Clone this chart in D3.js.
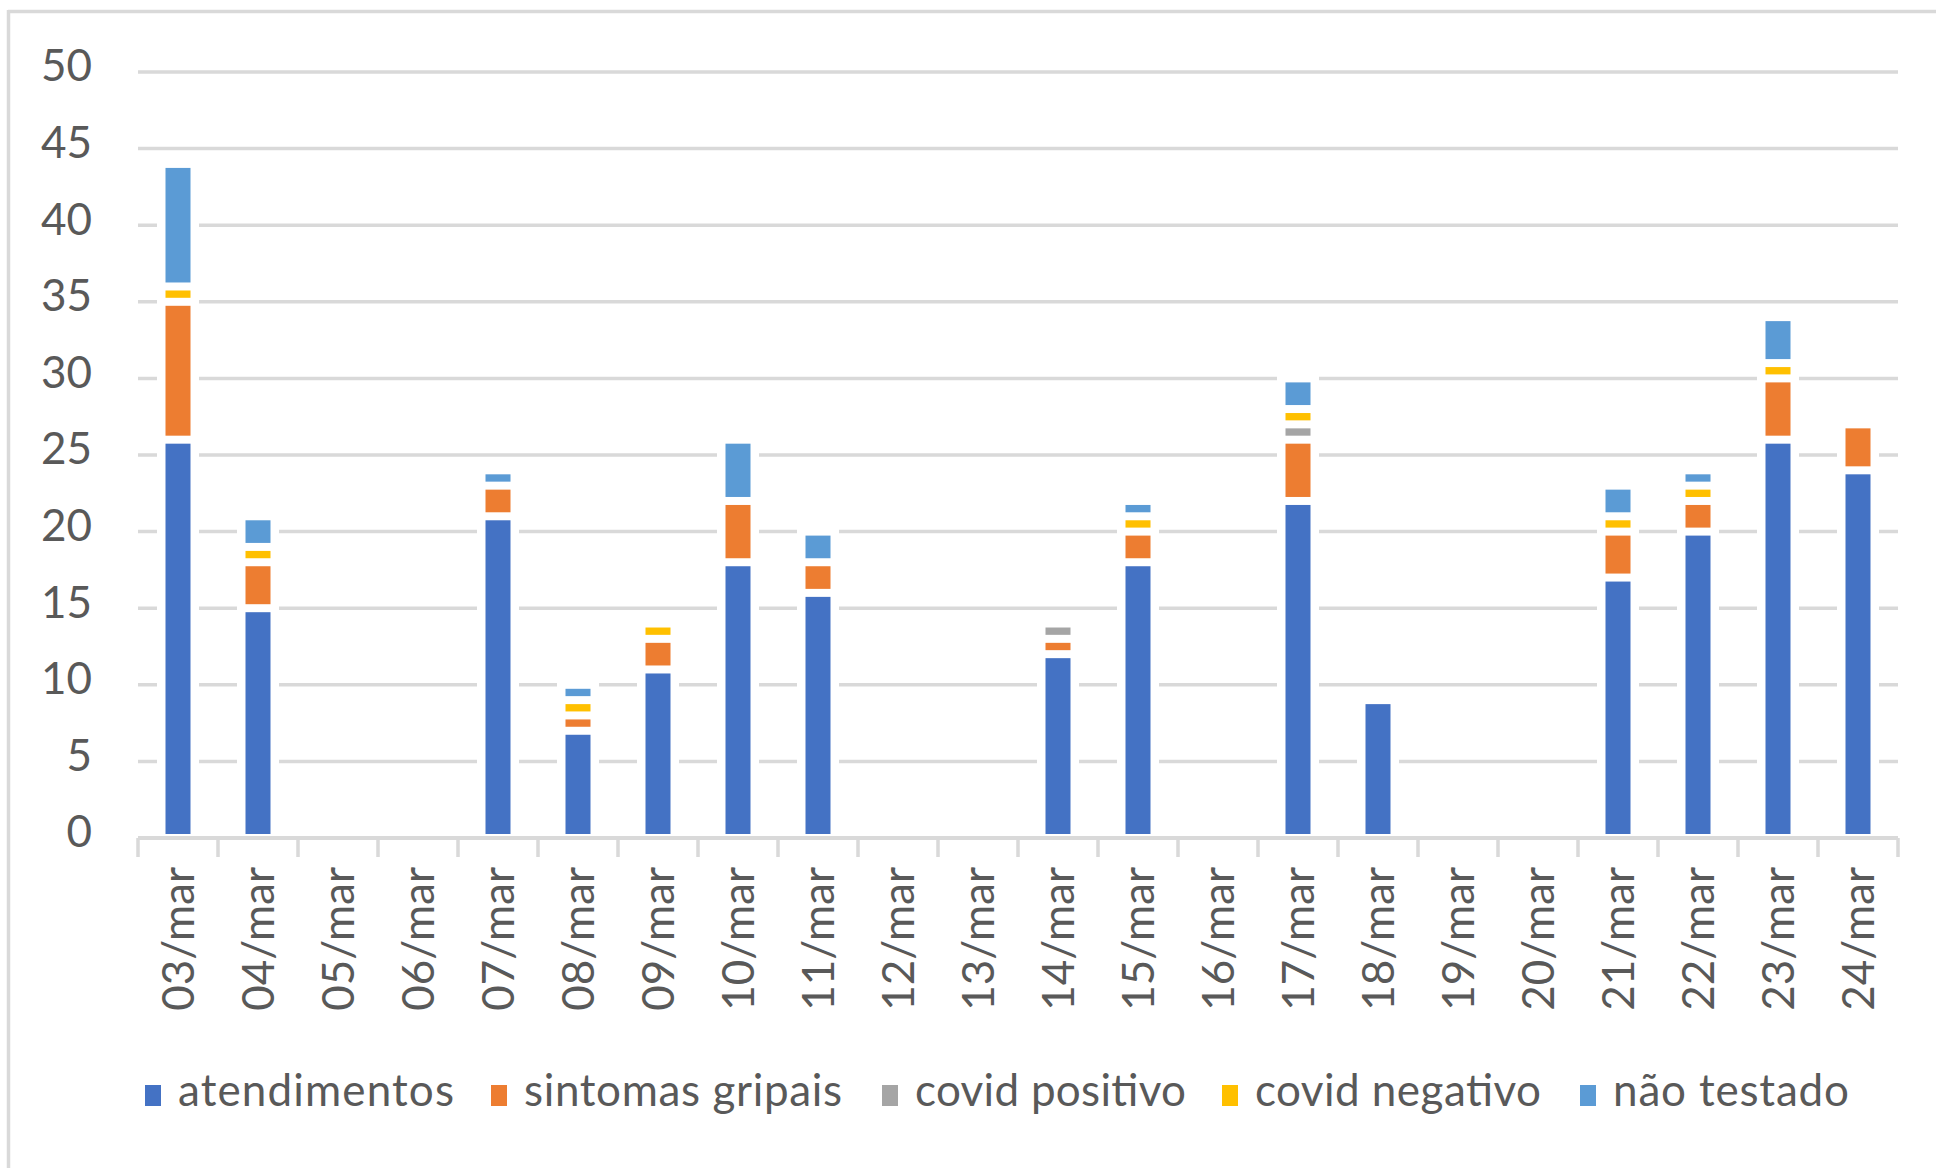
<!DOCTYPE html>
<html>
<head>
<meta charset="utf-8">
<script src="https://cdn.jsdelivr.net/npm/d3@7"></script>
<style>
  body { margin: 0; background: #fff; }
  text { font-family: Lato, "Open Sans", sans-serif; fill: #595959; }
</style>
</head>
<body>
<svg id="chart" width="1936" height="1168"></svg>
<script>
// categories (days of march)
const dias = ['03/mar', '04/mar', '05/mar', '06/mar', '07/mar', '08/mar', '09/mar', '10/mar', '11/mar',
    '12/mar', '13/mar', '14/mar', '15/mar', '16/mar', '17/mar', '18/mar', '19/mar', '20/mar',
    '21/mar', '22/mar', '23/mar', '24/mar'];

// series values
const atendimentos    = [26, 15, 0, 0, 21, 7, 11, 18, 16, 0, 0, 12, 18, 0, 22, 9, 0, 0, 17, 20, 26, 24];
const sintomasGripais = [9, 3, 0, 0, 2, 1, 2, 4, 2, 0, 0, 1, 2, 0, 4, 0, 0, 0, 3, 2, 4, 3];
const covidPositivo   = [0, 0, 0, 0, 0, 0, 0, 0, 0, 0, 0, 1, 0, 0, 1, 0, 0, 0, 0, 0, 0, 0];
const covidNegativo   = [1, 1, 0, 0, 0, 1, 1, 0, 0, 0, 0, 0, 1, 0, 1, 0, 0, 0, 1, 1, 1, 0];
const naoTestado      = [8, 2, 0, 0, 1, 1, 0, 4, 2, 0, 0, 0, 1, 0, 2, 0, 0, 0, 2, 1, 3, 0];

const seriesNames = ['atendimentos', 'sintomas gripais', 'covid positivo', 'covid negativo', 'não testado'];
const seriesColors = ['#4472C4', '#ED7D31', '#A5A5A5', '#FFC000', '#5B9BD5'];
const yTicks = [0, 5, 10, 15, 20, 25, 30, 35, 40, 45, 50];

// build rows for d3.stack
const rows = dias.map((d, i) => ({
    dia: d,
    'atendimentos': atendimentos[i],
    'sintomas gripais': sintomasGripais[i],
    'covid positivo': covidPositivo[i],
    'covid negativo': covidNegativo[i],
    'não testado': naoTestado[i]
}));

const svg = d3.select("#chart");
const gridColor = "#d9d9d9";

// chart frame (only top and left edges are visible in the crop)
svg.append("line").attr("x1", 8).attr("x2", 1936).attr("y1", 11.5).attr("y2", 11.5)
    .attr("stroke", gridColor).attr("stroke-width", 3.5);
svg.append("line").attr("x1", 8.5).attr("x2", 8.5).attr("y1", 10).attr("y2", 1168)
    .attr("stroke", gridColor).attr("stroke-width", 3.5);

// scales
const x = d3.scaleBand().domain(dias).range([138, 1898]);
const y = d3.scaleLinear().domain([0, 50]).range([838, 72]);
const barW = 25;   // coloured width
const pad = 4;     // white outline around each segment

// gridlines
svg.append("g").selectAll("line")
    .data(yTicks.filter(t => t > 0))
    .enter().append("line")
    .attr("x1", 138).attr("x2", 1898)
    .attr("y1", d => y(d)).attr("y2", d => y(d))
    .attr("stroke", gridColor).attr("stroke-width", 3.5);

// y labels
svg.append("g").selectAll("text")
    .data(yTicks)
    .enter().append("text")
    .attr("x", 92)
    .attr("y", d => y(d) - 6)
    .attr("dy", "0.35em")
    .attr("text-anchor", "end")
    .style("font-size", "44px")
    .text(d => d);

const stacked = d3.stack().keys(seriesNames)(rows);
const totals = rows.map(r => d3.sum(seriesNames, k => r[k]));

// white backing behind each stack (cuts the gridlines like the Excel outline)
svg.append("g").selectAll("rect")
    .data(dias.filter((d, i) => totals[i] > 0))
    .enter().append("rect")
    .attr("x", d => x(d) + x.bandwidth() / 2 - barW / 2 - 8.5)
    .attr("width", barW + 17)
    .attr("y", d => y(totals[dias.indexOf(d)]) - pad)
    .attr("height", d => y(0) - y(totals[dias.indexOf(d)]) + pad)
    .attr("fill", "#fff");

// x axis line + tick marks
svg.append("line").attr("x1", 138).attr("x2", 1898).attr("y1", y(0)).attr("y2", y(0))
    .attr("stroke", gridColor).attr("stroke-width", 4);
svg.append("g").selectAll("line")
    .data(d3.range(dias.length + 1))
    .enter().append("line")
    .attr("x1", i => 138 + i * x.step()).attr("x2", i => 138 + i * x.step())
    .attr("y1", y(0)).attr("y2", 857)
    .attr("stroke", gridColor).attr("stroke-width", 3.5);

// stacked segments
svg.append("g").selectAll("g")
    .data(stacked)
    .enter().append("g")
    .attr("fill", (d, i) => seriesColors[i])
    .selectAll("rect")
    .data(d => d.filter(s => s[1] - s[0] > 0))
    .enter().append("rect")
    .attr("x", d => x(d.data.dia) + x.bandwidth() / 2 - barW / 2)
    .attr("width", barW)
    .attr("y", d => y(d[1]) + pad)
    .attr("height", d => Math.max(0, y(d[0]) - y(d[1]) - 2 * pad));

// rotated x labels
svg.append("g").selectAll("text")
    .data(dias)
    .enter().append("text")
    .attr("transform", d => `translate(${x(d) + x.bandwidth() / 2 + 16}, 867) rotate(-90)`)
    .attr("text-anchor", "end")
    .style("font-size", "44px")
    .text(d => d);

// legend - positions and text widths matched to the original
const legendX = [145, 491, 882, 1222, 1580];
const legendTextW = [276, 318, 271, 286, 236];
const legend = svg.append("g").selectAll("g")
    .data(seriesNames)
    .enter().append("g")
    .attr("transform", (d, i) => `translate(${legendX[i]}, 0)`);

legend.append("rect")
    .attr("x", 0).attr("y", 1085)
    .attr("width", 16).attr("height", 21)
    .attr("fill", (d, i) => seriesColors[i]);

legend.append("text")
    .attr("x", 33).attr("y", 1106)
    .attr("textLength", (d, i) => legendTextW[i])
    .attr("lengthAdjust", "spacing")
    .style("font-size", "44px")
    .text(d => d);
</script>
</body>
</html>
